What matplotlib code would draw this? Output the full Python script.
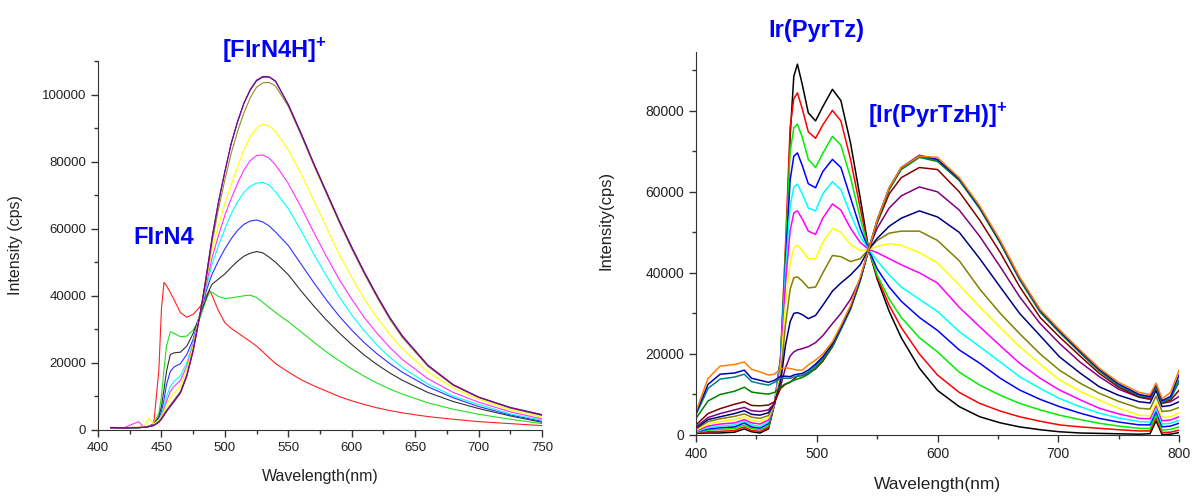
import matplotlib
matplotlib.use('Agg')
import matplotlib.pyplot as plt
from matplotlib.ticker import MultipleLocator

plt.rcParams['font.family'] = ['Liberation Sans', 'DejaVu Sans']
plt.rcParams['mathtext.fontset'] = 'custom'
plt.rcParams['mathtext.rm'] = 'Liberation Sans'
plt.rcParams['mathtext.bf'] = 'Liberation Sans:bold'

# ---- left panel: FIrN4 titration (wavelength in nm, intensity in cps)
wl_left = [410, 420, 432, 436, 440, 444, 448, 450, 452, 454, 457, 460, 465, 470, 475,
           480, 485, 488, 490, 495, 500, 505, 510, 515, 520, 525, 530, 535, 540, 550,
           560, 570, 580, 590, 600, 610, 620, 630, 640, 660, 680, 700, 725, 750]

fl_red = [800, 700, 800, 900, 1000, 2000, 18000, 36000, 44000, 43000, 41000, 38800, 35000, 33600, 34500,
          36500, 39800, 41700, 40000, 35500, 32000, 30300, 29000, 27700, 26400, 25000, 23300, 21500, 19800, 17300,
          15000, 13200, 11600, 10000, 8700, 7600, 6600, 5800, 5100, 4000, 3200, 2500, 1900, 1300]
fl_green = [700, 600, 700, 800, 1100, 1800, 5000, 10000, 18000, 25000, 29300, 28800, 27800, 28000, 29800,
            33000, 38500, 41200, 41000, 39800, 39200, 39400, 39700, 40000, 40200, 39500, 38000, 36500, 35000, 32300,
            29300, 26200, 23300, 20700, 18200, 16000, 14000, 12200, 10700, 8100, 6200, 4700, 3200, 1900]
fl_black = [700, 600, 700, 800, 1100, 1700, 4000, 7000, 12000, 17500, 22500, 23000, 23200, 25000, 28800,
            34000, 39000, 42000, 43500, 45000, 46500, 48500, 50300, 51800, 52700, 53200, 52800, 51500, 50000, 46300,
            41500, 37000, 32800, 29000, 25500, 22300, 19500, 17000, 14800, 11200, 8500, 6400, 4200, 2300]
fl_blue = [700, 600, 700, 800, 1100, 1600, 3500, 5500, 9000, 13500, 17500, 18800, 19800, 22500, 27000,
           34000, 41000, 44500, 46500, 50500, 54000, 57000, 59500, 61300, 62300, 62600, 62000, 60800, 59000, 55000,
           49500, 44000, 38800, 34000, 29800, 26000, 22700, 19800, 17200, 12900, 9600, 7000, 4500, 2600]
fl_cyan = [700, 600, 700, 800, 1100, 1500, 3000, 4500, 7000, 10000, 13000, 14500, 16200, 20000, 26000,
           34000, 42000, 46500, 49500, 55000, 60000, 64500, 68000, 70800, 72700, 73600, 73800, 73000, 71000, 66000,
           59500, 52500, 46000, 39800, 34300, 29500, 25300, 21700, 18600, 13700, 10100, 7600, 4800, 2900]
fl_magenta = [700, 600, 2500, 800, 1100, 1500, 2700, 4000, 6000, 8500, 11500, 13000, 14800, 19000, 25500,
              34000, 43000, 48000, 51500, 58000, 64000, 69000, 73500, 77500, 80300, 81800, 82000, 81000, 79000, 73500,
              66500, 59000, 51800, 45000, 39000, 33500, 28800, 24600, 21000, 15300, 11200, 8300, 5400, 3300]
fl_yellow = [700, 600, 700, 900, 3500, 1800, 3000, 4000, 5500, 7500, 9500, 11000, 13000, 18000, 25000,
             34000, 44000, 50000, 54000, 61000, 67500, 73000, 78500, 83500, 87500, 90000, 91200, 90600, 89000, 83500,
             76500, 68500, 60500, 52500, 45500, 39000, 33500, 28500, 24200, 17300, 12500, 9200, 6000, 3800]
fl_olive = [700, 600, 700, 800, 1000, 1400, 2500, 3500, 4800, 6000, 7500, 9000, 11500, 16500, 24000,
            33500, 44000, 51000, 56000, 66000, 74500, 82500, 89000, 94500, 99000, 102200, 103500, 103600, 102500, 96500,
            88000, 79000, 70500, 62000, 54000, 46500, 39500, 33000, 27500, 19000, 13300, 9700, 6500, 4300]
fl_navy = [700, 600, 700, 800, 1000, 1400, 2400, 3300, 4400, 5600, 7100, 8600, 11200, 16200, 23700,
           33500, 45000, 52500, 57500, 68000, 77000, 85300, 91800, 97300, 101300, 104100, 105200, 105200, 103900, 97000,
           88500, 79500, 71000, 62500, 54500, 47000, 40000, 33500, 28000, 19300, 13500, 9800, 6700, 4500]
fl_purple = [700, 600, 700, 800, 1000, 1300, 2300, 3200, 4300, 5500, 7000, 8500, 11000, 16000, 23500,
             33500, 45000, 52500, 57500, 68000, 77000, 85500, 92000, 97500, 101500, 104300, 105400, 105300, 104000, 97000,
             88500, 79500, 71000, 62500, 54500, 47000, 40000, 33500, 28000, 19300, 13500, 9800, 6700, 4600]

# ---- right panel: Ir(PyrTz) titration
wl_right = [400, 410, 420, 432, 440, 446, 453, 460, 465, 470, 474, 478, 481, 484, 488,
            493, 499, 505, 513, 520, 528, 536, 543, 550, 560, 570, 585, 600, 618, 635,
            652, 668, 685, 701, 718, 734, 750, 767, 776, 781, 786, 793, 800]

ir_black = [400, 500, 500, 700, 1500, 800, 500, 1500, 7500, 16000, 40000, 74000, 88500, 91500, 86500,
            79500, 77500, 81000, 85300, 82500, 72000, 58500, 45800, 38500, 30500, 24000, 16500, 11000, 7000, 4500,
            3000, 2000, 1300, 800, 500, 400, 300, 200, 300, 3500, 100, 200, 600]
ir_red = [500, 800, 900, 1100, 2000, 1100, 900, 1900, 7600, 19000, 46000, 76000, 83000, 84400, 80500,
          74800, 73200, 76500, 80100, 77500, 68000, 56000, 45800, 39000, 32000, 26500, 20000, 14800, 10500, 7800,
          5900, 4500, 3400, 2500, 2000, 1650, 1300, 1000, 1000, 4200, 600, 700, 1200]
ir_green = [600, 1200, 1400, 1600, 2500, 1600, 1300, 2300, 7800, 19000, 44000, 70000, 75800, 76700, 73500,
            68000, 66000, 69500, 73700, 71500, 63500, 53500, 45800, 39500, 33500, 29000, 24000, 20500, 15500, 12300,
            9800, 7800, 6200, 4900, 3800, 2900, 2200, 1650, 1600, 5000, 1200, 1400, 2000]
ir_blue = [700, 1500, 1800, 2000, 3000, 2000, 1700, 2800, 7800, 18500, 42000, 63000, 68800, 69600, 66500,
           62000, 61000, 65000, 68000, 66000, 58500, 51000, 45800, 41000, 36500, 33000, 29000, 25800, 21000, 17700,
           14000, 11100, 8800, 7000, 5400, 4100, 3200, 2500, 2500, 5800, 2000, 2200, 2900]
ir_cyan = [800, 1800, 2200, 2500, 3400, 2500, 2100, 3300, 7800, 18000, 40000, 56500, 61200, 61900, 59500,
           56000, 55300, 59500, 62500, 60500, 54500, 49000, 45800, 43000, 39500, 36500, 33500, 30500, 25500, 21800,
           18000, 14400, 11500, 9000, 7000, 5400, 4200, 3300, 3200, 6500, 2700, 2900, 3600]
ir_magenta = [1000, 2200, 2700, 3000, 3800, 3000, 2700, 3700, 7800, 17000, 37000, 50500, 54800, 55300, 53300,
              50300, 49500, 53500, 57000, 55500, 51000, 47500, 45800, 45000, 43500, 42000, 40000, 37500, 31500, 26700,
              22000, 17700, 14000, 11100, 8700, 6600, 5200, 4100, 4000, 7300, 3500, 3700, 4500]
ir_yellow = [1200, 2700, 3300, 3800, 4500, 3600, 3300, 4200, 7800, 15500, 32000, 42500, 46200, 46800, 45500,
             43500, 43500, 47500, 51000, 50000, 47000, 45500, 45800, 46500, 47200, 46800, 45000, 42500, 37000, 31600,
             26500, 21800, 17500, 13600, 10800, 8600, 6600, 4900, 4700, 8000, 4300, 4500, 5500]
ir_darkyellow = [1500, 3300, 4000, 4600, 5200, 4400, 4100, 4800, 7800, 14000, 27000, 36000, 38800, 39000, 38000,
                 36300, 36500, 40000, 44300, 44000, 42800, 43500, 45800, 48000, 49800, 50300, 50300, 48000, 43000, 36000,
                 30000, 25000, 20000, 16000, 12800, 10300, 8300, 6600, 6400, 9600, 5800, 6000, 6800]
ir_navy = [1700, 3800, 4500, 5300, 6000, 5100, 4900, 5500, 7800, 13000, 22000, 28000, 30000, 30200, 29700,
           28700, 29500, 32000, 35500, 37500, 39500, 42000, 45800, 48500, 51500, 53500, 55300, 53800, 50000, 43500,
           36500, 30000, 24500, 19300, 15300, 11900, 9800, 8200, 7900, 11000, 7000, 7300, 8200]
ir_purple = [2000, 4300, 5300, 6200, 6800, 6000, 5800, 6200, 7800, 12000, 16500, 19500, 20500, 21000, 21300,
             21800, 22800, 24500, 27500, 30000, 33500, 38500, 45800, 51000, 56000, 59000, 61200, 60000, 55500, 49000,
             41500, 34100, 27500, 22600, 18000, 14400, 11300, 9300, 8800, 11800, 7800, 8200, 9500]
ir_wine = [2500, 5300, 6500, 7600, 8200, 7300, 7200, 7400, 8200, 11500, 12500, 13000, 13800, 14500, 14700,
           15200, 16300, 18200, 21800, 26200, 31300, 38200, 45800, 52300, 59500, 63500, 66000, 65500, 60000, 53000,
           45000, 36600, 29000, 24200, 19500, 15200, 11800, 9400, 9000, 12000, 8000, 8600, 11000]
ir_olive = [4100, 8400, 10000, 10800, 11800, 10600, 10300, 10100, 10500, 11900, 12600, 13100, 13500, 13800, 14200,
            15000, 16500, 18500, 21800, 26000, 31000, 38000, 45800, 52500, 60500, 65500, 68500, 67500, 62800, 55800,
            47300, 38300, 30300, 25300, 20300, 15800, 12200, 9700, 9200, 12000, 8000, 9000, 13500]
ir_darkcyan = [5000, 11500, 13800, 14300, 15000, 13200, 12700, 12300, 13000, 14000, 14000, 14000, 14300, 14500, 14700,
               15500, 17000, 19000, 22200, 26200, 31300, 38300, 45800, 52800, 60800, 65800, 68700, 67800, 63000, 56000,
               47500, 38500, 30500, 25500, 20500, 16000, 12300, 9800, 9300, 12200, 8300, 9000, 13000]
ir_royal = [5400, 12500, 15000, 15300, 16000, 14000, 13500, 13000, 13500, 14500, 14500, 14400, 14800, 15000, 15200,
            16000, 17500, 19300, 22500, 26500, 31500, 38500, 45800, 53000, 61000, 66000, 69000, 68000, 63200, 56200,
            47700, 38800, 30800, 25700, 20700, 16200, 12600, 10000, 9500, 12500, 8500, 9500, 14800]
ir_orange = [5800, 14000, 17000, 17400, 18000, 16200, 15600, 14800, 15000, 16300, 16600, 16400, 16200, 16000, 16000,
             17300, 18500, 20000, 23000, 27000, 32000, 39000, 45800, 53000, 61000, 66000, 68800, 68500, 63500, 56500,
             48000, 39000, 31000, 26000, 21000, 16500, 13000, 10500, 10000, 12800, 9000, 10500, 16000]

left_series = [(fl_red, '#ff2020'), (fl_green, '#20e020'), (fl_black, '#303030'), (fl_blue, '#3030ff'),
               (fl_cyan, '#00ffff'), (fl_magenta, '#ff30ff'), (fl_yellow, '#ffff00'), (fl_olive, '#909020'),
               (fl_navy, '#202090'), (fl_purple, '#900090')]
right_series = [(ir_black, '#000000'), (ir_red, '#ff0000'), (ir_green, '#00ee00'), (ir_blue, '#0000ff'),
                (ir_cyan, '#00ffff'), (ir_magenta, '#ff00ff'), (ir_yellow, '#ffff00'), (ir_darkyellow, '#808000'),
                (ir_navy, '#000080'), (ir_purple, '#800080'), (ir_wine, '#800000'), (ir_olive, '#008000'),
                (ir_darkcyan, '#008080'), (ir_royal, '#0000c0'), (ir_orange, '#ff8000')]

W, H = 1193, 497
fig = plt.figure(figsize=(W / 100, H / 100), dpi=100)
ax1 = fig.add_axes([98 / W, 1 - 430 / H, 444 / W, 369 / H])
ax2 = fig.add_axes([696 / W, 1 - 435 / H, 483 / W, 383 / H])

for vals, c in left_series:
    ax1.plot(wl_left, vals, color=c, linewidth=0.8)
for vals, c in right_series:
    ax2.plot(wl_right, vals, color=c, linewidth=1.1)

txt = '#222222'
for ax in (ax1, ax2):
    ax.spines['top'].set_visible(False)
    ax.spines['right'].set_visible(False)
    ax.spines['left'].set_color('#333333')
    ax.spines['bottom'].set_color('#333333')
    ax.tick_params(which='both', direction='out', colors='#333333', labelcolor=txt)
    ax.tick_params(which='major', length=5, width=1)
    ax.tick_params(which='minor', length=3, width=1)
    ax.set_facecolor('none')

ax1.set_xlim(400, 750)
ax1.set_ylim(0, 110000)
ax1.xaxis.set_major_locator(MultipleLocator(50))
ax1.xaxis.set_minor_locator(MultipleLocator(25))
ax1.yaxis.set_major_locator(MultipleLocator(20000))
ax1.yaxis.set_minor_locator(MultipleLocator(10000))
ax1.tick_params(labelsize=9.5)
ax1.set_xlabel('Wavelength(nm)', fontsize=11.5, color=txt)
ax1.set_ylabel('Intensity (cps)', fontsize=11.5, color=txt)
ax1.xaxis.set_label_coords(0.5, -0.105)
ax1.yaxis.set_label_coords(-0.17, 0.5)

ax2.set_xlim(400, 800)
ax2.set_ylim(0, 94500)
ax2.xaxis.set_major_locator(MultipleLocator(100))
ax2.xaxis.set_minor_locator(MultipleLocator(50))
ax2.yaxis.set_major_locator(MultipleLocator(20000))
ax2.yaxis.set_minor_locator(MultipleLocator(10000))
ax2.tick_params(labelsize=10)
ax2.set_xlabel('Wavelength(nm)', fontsize=12.5, color=txt)
ax2.set_ylabel('Intensity(cps)', fontsize=12, color=txt)
ax2.xaxis.set_label_coords(0.5, -0.11)
ax2.yaxis.set_label_coords(-0.17, 0.56)

blue = '#0000ff'
kw = dict(color=blue, fontsize=17, fontweight='bold', va='center', ha='left')
fig.text(222 / W, 1 - 50 / H, r'[FIrN4H]$^{\mathbf{+}}$', **kw)
fig.text(133 / W, 1 - 237 / H, 'FIrN4', **kw)
fig.text(768 / W, 1 - 31 / H, 'Ir(PyrTz)', **kw)
fig.text(868 / W, 1 - 116 / H, r'[Ir(PyrTzH)]$^{\mathbf{+}}$', **kw)

fig.savefig('out.png', dpi=100)
